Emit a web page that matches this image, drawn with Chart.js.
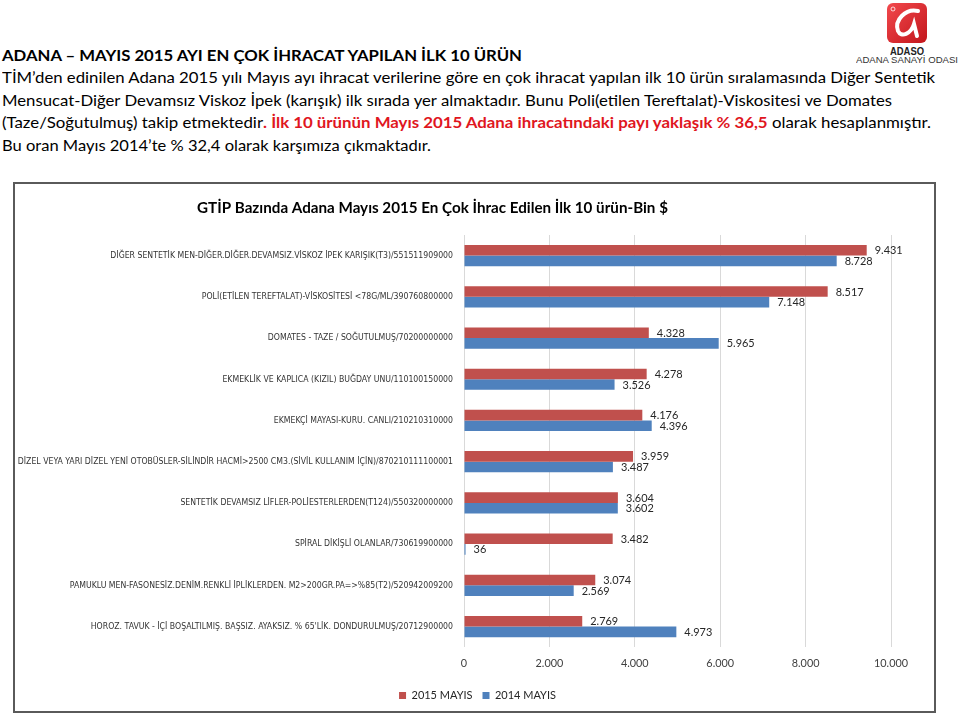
<!DOCTYPE html>
<html>
<head>
<meta charset="utf-8">
<script src="https://cdn.jsdelivr.net/npm/chart.js@4.4.0/dist/chart.umd.min.js"></script>
<style>
html,body{margin:0;padding:0;background:#fff;}
body{width:960px;height:718px;position:relative;overflow:hidden;font-family:Lato,"Open Sans",sans-serif;color:#000;}
.hl{position:absolute;left:2px;white-space:nowrap;transform-origin:0 50%;font-size:15px;line-height:22px;display:inline-block;}
.red{color:#e0161e;font-weight:700;}
#frame{position:absolute;left:13px;top:182px;width:923px;height:531px;border:2px solid #5a5a5a;box-sizing:border-box;}
#chartWrap{position:absolute;left:15px;top:184px;width:919px;height:527px;}
.logoTxt{position:absolute;white-space:nowrap;transform-origin:0 50%;display:inline-block;font-family:"Liberation Sans",Arial,sans-serif;}
</style>
</head>
<body>
<div class="hl fit" data-w="520" style="top:44px;font-weight:700;">ADANA – MAYIS 2015 AYI EN ÇOK İHRACAT YAPILAN İLK 10 ÜRÜN</div>
<div class="hl fit" data-w="933" style="top:66px;">TİM’den edinilen Adana 2015 yılı Mayıs ayı ihracat verilerine göre en çok ihracat yapılan ilk 10 ürün sıralamasında Diğer Sentetik</div>
<div class="hl fit" data-w="890" style="top:89px;">Mensucat-Diğer Devamsız Viskoz İpek (karışık) ilk sırada yer almaktadır. Bunu Poli(etilen Tereftalat)-Viskositesi ve Domates</div>
<div class="hl fit" data-w="929" style="top:111px;">(Taze/Soğutulmuş) takip etmektedir<span class="red">. İlk 10 ürünün Mayıs 2015 Adana ihracatındaki payı yaklaşık % 36,5</span> olarak hesaplanmıştır.</div>
<div class="hl fit" data-w="429" style="top:134px;">Bu oran Mayıs 2014’te % 32,4 olarak karşımıza çıkmaktadır.</div>

<svg style="position:absolute;left:887px;top:3px" width="40" height="40" viewBox="0 0 40 40">
  <defs><linearGradient id="lg" x1="0" y1="0" x2="1" y2="1"><stop offset="0" stop-color="#f2494d"/><stop offset="1" stop-color="#c3161c"/></linearGradient></defs>
  <rect x="0" y="0" width="40" height="40" rx="6" fill="url(#lg)"/>
  <path d="M31 8 C19 5 7 17 11 28 C14 35 24 31 27 21 L30 33" fill="none" stroke="#fff" stroke-width="4" stroke-linecap="round"/>
  <circle cx="6" cy="6" r="2" fill="none" stroke="#fff" stroke-width="0.8"/>
</svg>
<div class="logoTxt fitc" data-w="34" data-cx="907" style="top:45px;font-size:11px;font-weight:700;color:#222;line-height:12px;">ADASO</div>
<div class="logoTxt fitc" data-w="102" data-cx="907" style="top:55px;font-size:9px;color:#333;line-height:10px;">ADANA SANAYİ ODASI</div>

<div id="frame"></div>
<div id="chartWrap"><canvas id="c" width="919" height="527"></canvas></div>

<script>
// ---- data ----
const chartTitle = "GTİP Bazında Adana Mayıs 2015 En Çok İhrac Edilen İlk 10 ürün-Bin $";
const categories = [
  "DİĞER SENTETİK MEN-DİĞER.DİĞER.DEVAMSIZ.VİSKOZ İPEK KARIŞIK(T3)/551511909000",
  "POLİ(ETİLEN TEREFTALAT)-VİSKOSİTESİ <78G/ML/390760800000",
  "DOMATES - TAZE / SOĞUTULMUŞ/70200000000",
  "EKMEKLİK VE KAPLICA (KIZIL) BUĞDAY UNU/110100150000",
  "EKMEKÇİ MAYASI-KURU. CANLI/210210310000",
  "DİZEL VEYA YARI DİZEL YENİ OTOBÜSLER-SİLİNDİR HACMİ>2500 CM3.(SİVİL KULLANIM İÇİN)/870210111100001",
  "SENTETİK DEVAMSIZ LİFLER-POLİESTERLERDEN(T124)/550320000000",
  "SPİRAL DİKİŞLİ OLANLAR/730619900000",
  "PAMUKLU MEN-FASONESİZ.DENİM.RENKLİ İPLİKLERDEN. M2>200GR.PA=>%85(T2)/520942009200",
  "HOROZ. TAVUK - İÇİ BOŞALTILMIŞ. BAŞSIZ. AYAKSIZ. % 65'LİK. DONDURULMUŞ/20712900000"
];
const values2015 = [9431, 8517, 4328, 4278, 4176, 3959, 3604, 3482, 3074, 2769];
const values2014 = [8728, 7148, 5965, 3526, 4396, 3487, 3602, 36, 2569, 4973];
const seriesNames = ["2015 MAYIS", "2014 MAYIS"];
const xTickValues = [0, 2000, 4000, 6000, 8000, 10000];

// ---- helpers ----
const FONT = "Lato";
function fmt(v){ return String(Math.round(v)).replace(/\B(?=(\d{3})+(?!\d))/g, "."); }
const mctx = document.createElement("canvas").getContext("2d");
function measure(text, weight, family, size){
  mctx.font = weight + " " + size + "px " + family;
  return mctx.measureText(text).width;
}
function fontAvailable(name){
  const s = "abcdefghijklmnopqrstuvwxyzİĞŞ0123456789";
  return ["monospace","serif"].some(fb => measure(s, "400", '"' + name + '", ' + fb, 50) !== measure(s, "400", fb, 50));
}
const narrowCandidates = ["Liberation Sans Narrow", "DejaVu Sans Condensed", "Lato"];
const LABEL_FONT = narrowCandidates.find(fontAvailable) || "Lato";
const LABEL_FAMILY = '"' + LABEL_FONT + '", Lato, sans-serif';

function fitSize(text, weight, family, target){
  return 100 * target / measure(text, weight, family, 100);
}
// fit header lines horizontally
document.querySelectorAll(".fit").forEach(el=>{
  const w = el.getBoundingClientRect().width;
  el.style.transform = "scaleX(" + (parseFloat(el.dataset.w)/w) + ")";
});
document.querySelectorAll(".fitc").forEach(el=>{
  const w = el.getBoundingClientRect().width;
  const tw = parseFloat(el.dataset.w);
  el.style.left = (parseFloat(el.dataset.cx) - tw/2) + "px";
  el.style.transform = "scaleX(" + (tw/w) + ")";
});

const widest = categories.reduce((a,b)=> measure(a,"400",LABEL_FAMILY,100) > measure(b,"400",LABEL_FAMILY,100) ? a : b);
const yFont = Math.min(10, fitSize(widest, "400", LABEL_FAMILY, 436));
const tickFont = fitSize("10.000", "400", FONT, 34);
const dlFont = fitSize("9.431", "400", FONT, 28);
const legFont = fitSize("2015 MAYIS", "400", FONT, 61);
const titleFont = fitSize(chartTitle, "700", FONT, 471);

const dataLabels = {
  id: "dataLabels",
  afterDatasetsDraw(chart){
    const ctx = chart.ctx;
    ctx.save();
    ctx.font = dlFont + "px " + FONT;
    ctx.fillStyle = "#262626";
    ctx.textBaseline = "middle";
    ctx.textAlign = "left";
    chart.data.datasets.forEach((ds, i)=>{
      chart.getDatasetMeta(i).data.forEach((bar, j)=>{
        ctx.fillText(fmt(ds.data[j]), bar.x + 8, bar.y + 0.5);
      });
    });
    ctx.restore();
  }
};
const chartTitlePlugin = {
  id: "chartTitle",
  afterDraw(chart){
    const ctx = chart.ctx;
    ctx.save();
    ctx.font = "700 " + titleFont + "px " + FONT;
    ctx.fillStyle = "#000";
    ctx.textAlign = "center";
    ctx.textBaseline = "middle";
    ctx.fillText(chartTitle, chart.chartArea.left - 31.5, 24);
    ctx.restore();
  }
};
// center the legend on the whole canvas width (as in the reference)
const legendShift = {
  id: "legendShift",
  afterLayout(chart){
    const lg = chart.legend;
    if (!lg) return;
    const shift = chart.width / 2 + 3 - (lg.left + lg.right) / 2;
    lg.left += shift; lg.right += shift;
  }
};

new Chart(document.getElementById("c"), {
  type: "bar",
  data: {
    labels: categories,
    datasets: [
      {label: seriesNames[0], data: values2015, backgroundColor: "#c0504d", categoryPercentage: 0.514, barPercentage: 1},
      {label: seriesNames[1], data: values2014, backgroundColor: "#4f81bd", categoryPercentage: 0.514, barPercentage: 1}
    ]
  },
  options: {
    indexAxis: "y",
    responsive: false,
    animation: false,
    events: [],
    layout: {padding: {top: 51, right: 43, left: 0, bottom: 0}},
    plugins: {
      legend: {position: "bottom", labels: {boxWidth: 7, boxHeight: 7, padding: 10, color: "#262626", font: {family: FONT, size: legFont}}},
      title: {display: false},
      tooltip: {enabled: false}
    },
    scales: {
      x: {
        min: 0, max: 10000,
        afterBuildTicks(s){ s.ticks = xTickValues.map(v=>({value:v})); },
        ticks: {callback: v=>fmt(v), color: "#404040", padding: 5.6, font: {family: FONT, size: tickFont, lineHeight: 2}},
        grid: {color: "#d9d9d9", drawTicks: false},
        border: {display: false}
      },
      y: {
        afterFit(s){ s.width = 449; },
        ticks: {autoSkip: false, color: "#333333", padding: 11, font: {family: LABEL_FAMILY, size: yFont}},
        grid: {display: false, drawTicks: false},
        border: {display: false}
      }
    }
  },
  plugins: [dataLabels, chartTitlePlugin, legendShift]
});
</script>
</body>
</html>
